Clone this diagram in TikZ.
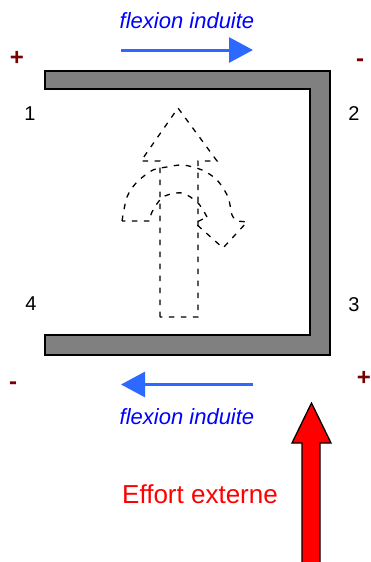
\documentclass[tikz,border=0pt]{standalone}
\usepackage{fontspec}
\setmainfont{Liberation Sans}
\usetikzlibrary{arrows.meta}
\definecolor{fleche}{RGB}{45,105,255}
\definecolor{signe}{RGB}{120,0,0}
\tikzset{
    legende/.style={text=blue, font=\fontsize{22}{22}\selectfont\itshape, inner sep=0pt},
    numero/.style={font=\fontsize{20}{20}\selectfont, inner sep=0pt},
    signeplus/.style={text=signe, font=\fontsize{24}{24}\selectfont\bfseries, inner sep=0pt},
    pointille/.style={line width=1.3pt, dash pattern=on 5.5pt off 6.5pt},
    flexion/.style={-{Triangle[length=24pt,width=25pt]}, fleche, line width=3pt}
}
\begin{document}
\begin{tikzpicture}[x=1pt, y=-1pt]
\useasboundingbox (0,0) rectangle (370,562);

% Profil
\draw[fill=black!50, line width=1.3pt] (45,71) -- (330,71) -- (330,355) -- (45,355) -- (45,335) -- (310,335) -- (310,89) -- (45,89) -- cycle;

% Fleche droite
\draw[pointille] (160,317) -- (160,161) -- (141,161) -- (178,108) -- (217,161) -- (198,161) -- (198,317) -- cycle;

% Fleche courbe
\draw[pointille] plot[smooth] coordinates {(122,221) (127,197) (137,182) (153,170) (167,167) (183,165) (202,170) (217,180) (228,197) (232,215) (237,221)}
    -- (247,222) -- (223,248) -- (195,223) -- (207,217)
    plot[smooth] coordinates {(207,217) (198,203) (182,193) (163,197) (152,212) (150,221)}
    -- (122,221);

% Flexions
\coordinate (h1) at (121,50);
\coordinate (h2) at (253,50);
\coordinate (b1) at (253,384.5);
\coordinate (b2) at (121,384.5);
\draw[flexion] (h1) -- (h2);
\draw[flexion] (b1) -- (b2);
\node[legende] (lh) at (187,21) {flexion induite};
\node[legende] (lb) at (187,417) {flexion induite};

% Effort
\draw[fill=red, line width=1.3pt] (302,563) -- (302,443) -- (292,443) -- (311.5,403) -- (331,443) -- (320,443) -- (320,563);
\node[text=red, font=\fontsize{26}{26}\selectfont, inner sep=0pt] (effort) at (200,494) {Effort externe};

% Reperes
\node[numero] (n1) at (30,114) {1};
\node[numero] (n2) at (354,114) {2};
\node[numero] (n3) at (354,305) {3};
\node[numero] (n4) at (31,304) {4};
\node[signeplus] (s1) at (17,58) {+};
\node[signeplus] (s2) at (360,63) {-};
\node[signeplus] (s3) at (364,378) {+};
\node[signeplus] (s4) at (13,386) {-};

\end{tikzpicture}
\end{document}
